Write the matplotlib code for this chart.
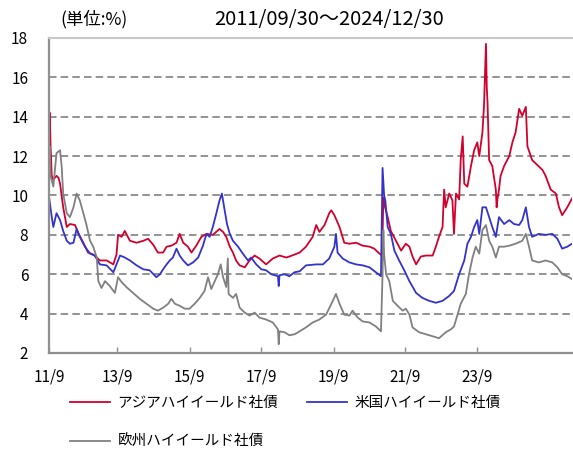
import matplotlib
matplotlib.use("Agg")
import matplotlib.pyplot as plt

plt.rcParams['font.family'] = ['Noto Sans CJK JP', 'DejaVu Sans']

# decimal years (2011/09/30 = 2011.75) and yields in %
asia_t = [2011.75, 2011.77, 2011.79, 2011.82, 2011.86, 2011.94, 2011.99, 2012.03, 2012.11, 2012.20,
          2012.28, 2012.41, 2012.49, 2012.62, 2012.74, 2012.87, 2013.04, 2013.21, 2013.38, 2013.46,
          2013.50, 2013.59, 2013.67, 2013.80, 2013.97, 2014.14, 2014.26, 2014.39, 2014.51, 2014.64,
          2014.73, 2014.85, 2014.98, 2015.06, 2015.15, 2015.27, 2015.36, 2015.48, 2015.61, 2015.74,
          2015.90, 2016.07, 2016.16, 2016.24, 2016.33, 2016.41, 2016.49, 2016.58, 2016.71, 2016.83,
          2016.96, 2017.08, 2017.25, 2017.42, 2017.59, 2017.76, 2017.84, 2018.10, 2018.26, 2018.43,
          2018.52, 2018.60, 2018.73, 2018.85, 2018.90, 2018.98, 2019.11, 2019.23, 2019.36, 2019.53,
          2019.70, 2019.87, 2019.99, 2020.12, 2020.19, 2020.22, 2020.25, 2020.33, 2020.41, 2020.54,
          2020.67, 2020.79, 2020.88, 2020.96, 2021.05, 2021.17, 2021.30, 2021.47, 2021.55, 2021.63,
          2021.72, 2021.76, 2021.80, 2021.89, 2021.97, 2022.01, 2022.06, 2022.14, 2022.18, 2022.23,
          2022.27, 2022.35, 2022.44, 2022.52, 2022.60, 2022.65, 2022.73, 2022.77, 2022.80, 2022.82,
          2022.84, 2022.86, 2022.90, 2022.98, 2023.07, 2023.09, 2023.11, 2023.15, 2023.19, 2023.28,
          2023.41, 2023.49, 2023.57, 2023.66, 2023.74, 2023.83, 2023.87, 2023.99, 2024.12, 2024.25,
          2024.33, 2024.46, 2024.59, 2024.67, 2024.75, 2024.88, 2025.00]
asia_v = [9.8, 14.2, 12.5, 11.0, 10.8, 11.0, 10.9, 10.6, 9.4, 8.4,
          8.55, 8.5, 8.1, 7.6, 7.1, 7.0, 6.7, 6.7, 6.5, 7.0,
          8.0, 7.9, 8.2, 7.7, 7.6, 7.7, 7.8, 7.5, 7.1, 7.1,
          7.4, 7.45, 7.6, 8.05, 7.6, 7.4, 7.1, 7.45, 7.9, 8.05,
          8.0, 8.3, 8.15, 7.9, 7.4, 7.1, 6.7, 6.45, 6.35, 6.7,
          6.95, 6.8, 6.5, 6.8, 6.95, 6.85, 6.9, 7.1, 7.4, 7.9,
          8.5, 8.15, 8.5, 9.1, 9.25, 9.0, 8.4, 7.6, 7.55, 7.6,
          7.45, 7.4, 7.3, 7.05, 6.95, 9.9, 9.5, 8.9, 8.2, 7.7,
          7.2, 7.55, 7.4, 6.9, 6.5, 6.9, 6.95, 6.95, 7.4, 7.9,
          8.4, 10.3, 9.4, 10.1, 9.75, 8.05, 10.1, 9.8, 11.8, 13.0,
          10.6, 10.45, 11.5, 12.3, 12.7, 12.0, 13.2, 14.55, 16.5, 17.7,
          15.5, 14.7, 11.8, 11.5, 10.3, 9.4, 9.8, 10.3, 11.0, 11.5,
          12.0, 12.7, 13.2, 14.4, 14.05, 14.5, 12.5, 11.8, 11.55, 11.3,
          11.0, 10.3, 10.1, 9.4, 9.0, 9.4, 9.85]

us_t = [2011.75, 2011.76, 2011.82, 2011.86, 2011.94, 2012.03, 2012.11, 2012.20, 2012.28, 2012.37,
        2012.45, 2012.53, 2012.66, 2012.79, 2012.91, 2013.04, 2013.21, 2013.38, 2013.46, 2013.55,
        2013.67, 2013.80, 2013.97, 2014.14, 2014.30, 2014.47, 2014.56, 2014.64, 2014.73, 2014.81,
        2014.89, 2014.98, 2015.06, 2015.15, 2015.27, 2015.40, 2015.53, 2015.65, 2015.74, 2015.82,
        2015.90, 2015.99, 2016.07, 2016.13, 2016.20, 2016.26, 2016.33, 2016.41, 2016.54, 2016.66,
        2016.79, 2016.87, 2017.00, 2017.13, 2017.25, 2017.38, 2017.55, 2017.57, 2017.59, 2017.72,
        2017.84, 2017.97, 2018.10, 2018.26, 2018.52, 2018.69, 2018.85, 2018.98, 2019.02, 2019.06,
        2019.19, 2019.36, 2019.53, 2019.70, 2019.87, 2020.03, 2020.16, 2020.20, 2020.24, 2020.27,
        2020.33, 2020.41, 2020.50, 2020.62, 2020.75, 2020.88, 2021.05, 2021.21, 2021.38, 2021.55,
        2021.72, 2021.89, 2022.01, 2022.14, 2022.27, 2022.35, 2022.44, 2022.52, 2022.60, 2022.65,
        2022.73, 2022.82, 2022.90, 2022.98, 2023.07, 2023.15, 2023.28, 2023.41, 2023.53, 2023.66,
        2023.74, 2023.83, 2023.91, 2023.99, 2024.16, 2024.33, 2024.50, 2024.63, 2024.75, 2024.88,
        2025.00]
us_v = [10.0, 9.8, 8.9, 8.4, 9.1, 8.75, 8.2, 7.7, 7.55, 7.6,
        8.3, 7.9, 7.4, 7.05, 6.95, 6.5, 6.45, 6.1, 6.5, 6.95,
        6.85, 6.7, 6.45, 6.25, 6.2, 5.85, 6.0, 6.25, 6.5, 6.7,
        6.85, 7.3, 6.95, 6.7, 6.45, 6.6, 6.85, 7.45, 8.05, 7.9,
        8.4, 9.1, 9.75, 10.1, 9.25, 8.55, 8.05, 7.7, 7.4, 7.05,
        6.7, 6.85, 6.5, 6.25, 6.2, 6.0, 5.9, 5.4, 5.95, 6.0,
        5.9, 6.1, 6.15, 6.45, 6.5, 6.5, 6.8, 7.4, 8.05, 7.1,
        6.8, 6.6, 6.5, 6.45, 6.35, 6.1, 5.9, 11.4, 10.0, 9.75,
        8.4, 8.05, 7.2, 6.7, 6.2, 5.65, 5.05, 4.8, 4.65, 4.55,
        4.65, 4.9, 5.15, 6.0, 6.7, 7.55, 7.9, 8.4, 8.75, 8.05,
        9.4, 9.4, 8.9, 8.4, 7.9, 8.9, 8.55, 8.75, 8.55, 8.5,
        8.75, 9.4, 8.4, 7.9, 8.05, 8.0, 8.05, 7.8, 7.3, 7.4,
        7.55]

eu_t = [2011.75, 2011.77, 2011.79, 2011.86, 2011.94, 2012.03, 2012.07, 2012.11, 2012.20, 2012.28,
        2012.37, 2012.45, 2012.53, 2012.62, 2012.70, 2012.79, 2012.87, 2012.96, 2013.00, 2013.08,
        2013.17, 2013.29, 2013.42, 2013.50, 2013.59, 2013.71, 2013.88, 2014.05, 2014.22, 2014.39,
        2014.51, 2014.64, 2014.77, 2014.85, 2014.94, 2015.06, 2015.19, 2015.31, 2015.44, 2015.57,
        2015.69, 2015.78, 2015.86, 2015.95, 2016.03, 2016.10, 2016.16, 2016.24, 2016.28, 2016.30,
        2016.41, 2016.49, 2016.58, 2016.71, 2016.83, 2016.96, 2017.08, 2017.25, 2017.42, 2017.55,
        2017.57, 2017.59, 2017.72, 2017.84, 2017.97, 2018.10, 2018.26, 2018.43, 2018.60, 2018.77,
        2018.94, 2019.02, 2019.11, 2019.23, 2019.36, 2019.44, 2019.57, 2019.70, 2019.87, 2020.03,
        2020.16, 2020.20, 2020.22, 2020.24, 2020.29, 2020.37, 2020.46, 2020.58, 2020.71, 2020.79,
        2020.88, 2020.96, 2021.13, 2021.30, 2021.47, 2021.63, 2021.80, 2021.93, 2022.01, 2022.10,
        2022.18, 2022.31, 2022.39, 2022.48, 2022.56, 2022.65, 2022.73, 2022.82, 2022.90, 2022.98,
        2023.07, 2023.15, 2023.28, 2023.41, 2023.57, 2023.74, 2023.83, 2023.91, 2023.99, 2024.16,
        2024.33, 2024.50, 2024.63, 2024.75, 2024.88, 2025.00]
eu_v = [11.5, 12.5, 11.0, 10.45, 12.15, 12.3, 11.5, 10.1, 9.1, 8.9,
        9.4, 10.1, 9.75, 9.1, 8.5, 7.7, 7.4, 6.85, 5.65, 5.3,
        5.65, 5.4, 5.05, 5.85, 5.6, 5.35, 5.05, 4.75, 4.5, 4.25,
        4.15, 4.3, 4.5, 4.75, 4.5, 4.4, 4.25, 4.25, 4.5, 4.8,
        5.15, 5.85, 5.25, 5.65, 6.0, 6.5, 5.85, 5.35, 6.8, 5.0,
        4.8, 5.0, 4.3, 4.05, 3.9, 4.05, 3.8, 3.7, 3.55, 3.2,
        2.45, 3.1, 3.05, 2.9, 2.95, 3.1, 3.3, 3.55, 3.7, 3.95,
        4.65, 5.0, 4.5, 3.95, 3.9, 4.15, 3.8, 3.6, 3.55, 3.35,
        3.1, 6.0, 8.25, 7.0, 6.0, 5.65, 4.65, 4.4, 4.15, 4.25,
        3.95, 3.3, 3.05, 2.95, 2.85, 2.75, 3.05, 3.2, 3.35, 3.95,
        4.5, 5.0, 6.0, 6.85, 7.4, 7.05, 8.25, 8.5, 7.7, 7.4,
        6.85, 7.4, 7.4, 7.45, 7.55, 7.7, 8.05, 7.4, 6.7, 6.6,
        6.7, 6.6, 6.35, 6.0, 5.9, 5.75]

names = ["アジアハイイールド社債", "米国ハイイールド社債", "欧州ハイイールド社債"]
colors = ["#D2002D", "#3333CC", "#808080"]

tick_pos = [2011.75, 2013.47, 2015.31, 2017.13, 2018.96, 2020.78, 2022.60]
tick_labels = ["11/9", "13/9", "15/9", "17/9", "19/9", "21/9", "23/9"]

fig = plt.figure(figsize=(5.73, 4.55), dpi=100)
ax = fig.add_axes([0.0855, 0.2242, 0.9128, 0.6923])

lines = []
for t, v, c, n in zip([asia_t, us_t, eu_t], [asia_v, us_v, eu_v], colors, names):
    ln, = ax.plot(t, v, color=c, lw=1.3, label=n)
    lines.append(ln)

ax.set_xlim(2011.75, 2025.0)
ax.set_ylim(2, 18)
ax.set_yticks(range(2, 19, 2))
ax.set_xticks(tick_pos)
ax.set_xticklabels(tick_labels)

ax.yaxis.grid(True, color="#808080", lw=1.2, linestyle=(0, (4.5, 2.5)))
ax.set_axisbelow(True)

for s in ["left", "bottom"]:
    ax.spines[s].set_color("#909090")
    ax.spines[s].set_linewidth(1.6)
ax.spines["top"].set_color("#c8c8c8")
ax.spines["top"].set_linewidth(1.5)
ax.spines["right"].set_visible(False)

ax.tick_params(axis="y", length=0, pad=15, labelsize=11)
ax.tick_params(axis="x", direction="in", length=4, width=1, color="#909090",
               pad=11, labelsize=11)

fig.text(0.105, 0.957, "(単位:%)", fontsize=12.5, ha="left", va="center")
fig.text(0.574, 0.957, "2011/09/30～2024/12/30", fontsize=14.5, ha="center", va="center")

# legend: red, blue on first row, gray below
handles = [lines[0], lines[2], lines[1]]
fig.legend(handles=handles, labels=[h.get_label() for h in handles], ncol=2,
           loc="upper left", bbox_to_anchor=(0.122, 0.129), frameon=False,
           fontsize=10.5, handlelength=2.75, handletextpad=0.5, columnspacing=2.0,
           labelspacing=1.7, borderpad=0, borderaxespad=0)

fig.savefig("out.png", dpi=100)
